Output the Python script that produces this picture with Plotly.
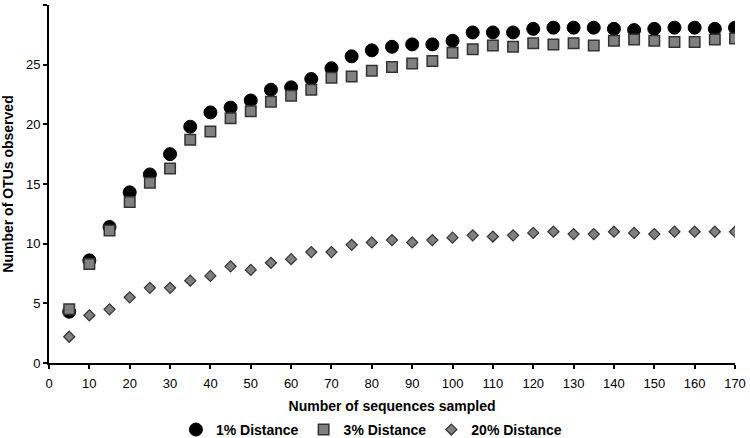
import plotly.graph_objects as go

seqs = [5, 10, 15, 20, 25, 30, 35, 40, 45, 50, 55, 60, 65, 70, 75, 80, 85, 90,
        95, 100, 105, 110, 115, 120, 125, 130, 135, 140, 145, 150, 155, 160, 165, 170]

dist1 = [4.3, 8.6, 11.4, 14.3, 15.8, 17.5, 19.8, 21.0, 21.4, 22.0, 22.9, 23.1, 23.8, 24.7,
         25.7, 26.2, 26.5, 26.7, 26.7, 27.0, 27.7, 27.7, 27.7, 28.0, 28.1, 28.1, 28.1, 28.0,
         27.9, 28.0, 28.1, 28.1, 28.0, 28.1]

dist3 = [4.5, 8.3, 11.1, 13.5, 15.1, 16.3, 18.7, 19.4, 20.5, 21.1, 21.9, 22.4, 22.9, 23.9,
         24.0, 24.5, 24.8, 25.1, 25.3, 26.0, 26.3, 26.6, 26.5, 26.8, 26.7, 26.8, 26.6, 27.0,
         27.1, 27.0, 26.9, 26.9, 27.1, 27.2]

dist20 = [2.2, 4.0, 4.5, 5.5, 6.3, 6.3, 6.9, 7.3, 8.1, 7.8, 8.4, 8.7, 9.3, 9.3,
          9.9, 10.1, 10.3, 10.1, 10.3, 10.5, 10.7, 10.6, 10.7, 10.9, 11.0, 10.8, 10.8, 11.0,
          10.9, 10.8, 11.0, 11.0, 11.0, 11.0]

names = ["1% Distance", "3% Distance", "20% Distance"]

x_ticks = list(range(0, 171, 10))
y_ticks = list(range(0, 31, 5))

font_family = "Liberation Sans, Arial, sans-serif"

fig = go.Figure()
fig.add_trace(go.Scatter(
    x=seqs, y=dist1, mode="markers", name=names[0],
    marker=dict(symbol="circle", size=13, color="#000000",
                line=dict(color="#000000", width=1)),
))
fig.add_trace(go.Scatter(
    x=seqs, y=dist3, mode="markers", name=names[1],
    marker=dict(symbol="square", size=10.5, color="#808080",
                line=dict(color="#333333", width=1.5)),
))
fig.add_trace(go.Scatter(
    x=seqs, y=dist20, mode="markers", name=names[2],
    marker=dict(symbol="diamond", size=8.5, color="#808080",
                line=dict(color="#333333", width=1.2)),
))

fig.update_layout(
    width=750, height=438,
    margin=dict(l=49, r=15, t=5, b=75),
    paper_bgcolor="white", plot_bgcolor="white",
    font=dict(family=font_family, size=13, color="#000000"),
    showlegend=True,
    legend=dict(
        orientation="h", xref="paper", x=0.47, xanchor="center",
        yref="container", y=0.055, yanchor="top",
        font=dict(size=14, family=font_family, color="#000000", weight="bold"),
        itemwidth=30, tracegroupgap=0, bgcolor="rgba(0,0,0,0)",
    ),
    xaxis=dict(
        range=[0, 170], tickvals=x_ticks, ticktext=[str(v) for v in x_ticks],
        showgrid=False, zeroline=False, automargin="left+right",
        showline=True, linecolor="#000000", linewidth=2,
        ticks="outside", ticklen=4, tickwidth=1.5, tickcolor="#000000",
        tickfont=dict(size=13), ticklabelstandoff=3,
        title=dict(text="Number of sequences sampled",
                   font=dict(size=14, weight="bold"), standoff=12),
    ),
    yaxis=dict(
        range=[0, 30], tickvals=y_ticks, ticktext=[str(v) for v in y_ticks],
        showgrid=False, zeroline=False, automargin=False,
        showline=True, linecolor="#000000", linewidth=2,
        ticks="outside", ticklen=4, tickwidth=1.5, tickcolor="#000000",
        tickfont=dict(size=13),
        title=dict(text="Number of OTUs observed",
                   font=dict(size=14, weight="bold"), standoff=10),
    ),
)

fig.write_html("out.html", config={"displayModeBar": False},
               post_script="document.body.style.margin='0';")
